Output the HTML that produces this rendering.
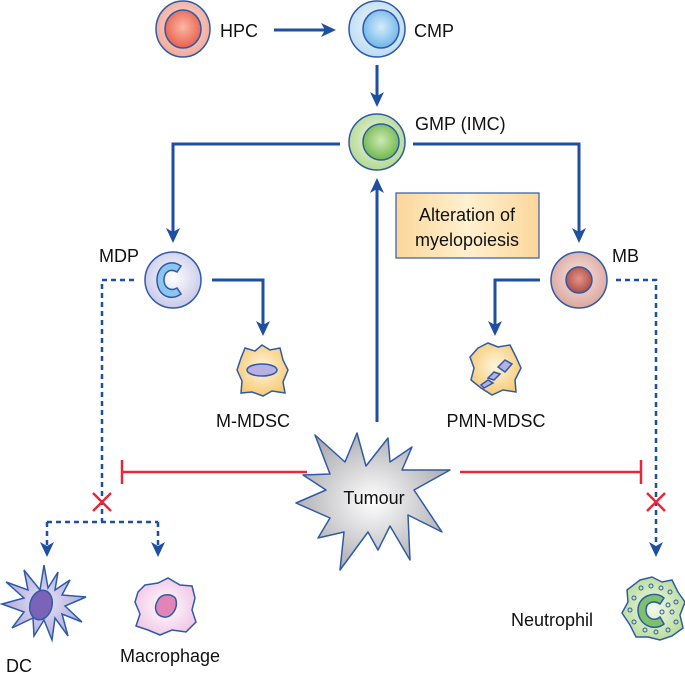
<!DOCTYPE html>
<html><head><style>
html,body{margin:0;padding:0;background:#fff;}
svg{display:block;}
text{font-family:"Liberation Sans",Arial,sans-serif;font-size:18px;fill:#111;}
</style></head><body>
<svg width="685" height="674" viewBox="0 0 685 674" xmlns="http://www.w3.org/2000/svg">
<defs>
<radialGradient id="gr" cx="50%" cy="45%" r="55%"><stop offset="0" stop-color="#fde3da"/><stop offset="1" stop-color="#f2a99a"/></radialGradient>
<radialGradient id="grn" cx="50%" cy="45%" r="55%"><stop offset="0" stop-color="#fbb7a6"/><stop offset="1" stop-color="#e9604c"/></radialGradient>
<radialGradient id="gb" cx="50%" cy="45%" r="55%"><stop offset="0" stop-color="#f2f8fd"/><stop offset="1" stop-color="#bcdcf3"/></radialGradient>
<radialGradient id="gbn" cx="50%" cy="45%" r="55%"><stop offset="0" stop-color="#d5ecfb"/><stop offset="1" stop-color="#6fb6ea"/></radialGradient>
<radialGradient id="gg" cx="50%" cy="45%" r="55%"><stop offset="0" stop-color="#eef7e6"/><stop offset="1" stop-color="#b4d992"/></radialGradient>
<radialGradient id="ggn" cx="50%" cy="45%" r="55%"><stop offset="0" stop-color="#cde9b3"/><stop offset="1" stop-color="#6eb84a"/></radialGradient>
<radialGradient id="gp" cx="50%" cy="45%" r="55%"><stop offset="0" stop-color="#ffffff"/><stop offset="1" stop-color="#c9c9ea"/></radialGradient>
<radialGradient id="gm" cx="50%" cy="45%" r="55%"><stop offset="0" stop-color="#f7e6e3"/><stop offset="1" stop-color="#dba79e"/></radialGradient>
<radialGradient id="gmn" cx="50%" cy="45%" r="55%"><stop offset="0" stop-color="#e3958a"/><stop offset="1" stop-color="#b04d45"/></radialGradient>
<radialGradient id="go" cx="50%" cy="45%" r="60%"><stop offset="0" stop-color="#fff5de"/><stop offset="1" stop-color="#f6c86e"/></radialGradient>
<radialGradient id="gt" cx="50%" cy="50%" r="55%"><stop offset="0" stop-color="#ffffff"/><stop offset="1" stop-color="#a9a9ae"/></radialGradient>
<radialGradient id="gpk" cx="50%" cy="50%" r="55%"><stop offset="0" stop-color="#ffffff"/><stop offset="1" stop-color="#f1c6e6"/></radialGradient>
<radialGradient id="gdc" cx="50%" cy="50%" r="55%"><stop offset="0" stop-color="#e6e3f5"/><stop offset="1" stop-color="#aaa3d8"/></radialGradient>
<radialGradient id="gnu" cx="50%" cy="50%" r="55%"><stop offset="0" stop-color="#f2f9ea"/><stop offset="1" stop-color="#b7dc97"/></radialGradient>
<linearGradient id="gbox" x1="0" y1="0" x2="1" y2="0"><stop offset="0" stop-color="#fbd79b"/><stop offset="0.5" stop-color="#fff0cf"/><stop offset="1" stop-color="#fbd79b"/></linearGradient>
<marker id="ah" markerWidth="16" markerHeight="14" refX="12" refY="7" orient="auto" markerUnits="userSpaceOnUse"><path d="M0,0 L15,7 L0,14 L4,7 Z" fill="#1f4fa0"/></marker>
</defs>

<g stroke="#1f4fa0" stroke-width="3" fill="none">
<line x1="274" y1="30" x2="333" y2="30" marker-end="url(#ah)"/>
<line x1="377" y1="65" x2="377" y2="104" marker-end="url(#ah)"/>
<polyline points="340,144 173,144 173,240" marker-end="url(#ah)"/>
<polyline points="413,144 579,144 579,240" marker-end="url(#ah)"/>
<line x1="377" y1="422" x2="377" y2="181" marker-end="url(#ah)"/>
<polyline points="212,280 263,280 263,333" marker-end="url(#ah)"/>
<polyline points="540,280 495,280 495,333" marker-end="url(#ah)"/>
</g>
<g stroke="#1f4fa0" stroke-width="2.5" fill="none" stroke-dasharray="5,4">
<polyline points="134,280 102,280 102,522"/>
<polyline points="47,522 158,522"/>
<line x1="47" y1="522" x2="47" y2="554" marker-end="url(#ah)"/>
<line x1="158" y1="522" x2="158" y2="554" marker-end="url(#ah)"/>
<polyline points="616,280 656,280 656,554" marker-end="url(#ah)"/>
</g>
<g stroke="#e8283a" stroke-width="2.5" fill="none">
<line x1="307" y1="472" x2="122" y2="472"/><line x1="122" y1="460" x2="122" y2="484"/>
<line x1="460" y1="472" x2="641" y2="472"/><line x1="641" y1="460" x2="641" y2="484"/>
<line x1="93" y1="493" x2="111" y2="511"/><line x1="111" y1="493" x2="93" y2="511"/>
<line x1="647" y1="493" x2="665" y2="511"/><line x1="665" y1="493" x2="647" y2="511"/>
</g>

<g stroke="#2e5aa8" stroke-width="1.5">
<ellipse cx="183" cy="29" rx="27" ry="28" fill="url(#gr)"/><ellipse cx="183" cy="29" rx="18" ry="19" fill="url(#grn)"/>
<ellipse cx="377" cy="29" rx="28" ry="28" fill="url(#gb)"/><ellipse cx="381" cy="29" rx="18" ry="19" fill="url(#gbn)"/>
<ellipse cx="377" cy="142" rx="28" ry="28" fill="url(#gg)"/><ellipse cx="381" cy="142" rx="18" ry="18" fill="url(#ggn)"/>
<ellipse cx="173" cy="280" rx="28" ry="28" fill="url(#gp)"/>
<path d="M181,266 C170,258 157,266 157,280 C157,295 170,302 181,294 L177,288 C170,292 164,287 164,280 C164,272 170,268 177,272 Z" fill="#8cc6ee"/>
<ellipse cx="579" cy="280" rx="28" ry="28" fill="url(#gm)"/><ellipse cx="579" cy="280" rx="13" ry="13" fill="url(#gmn)"/>
<path d="M245,348 L255,351 L262,345 L270,350 L280,348 L283,360 L288,370 L283,382 L285,393 L272,391 L263,396 L252,392 L241,393 L242,381 L237,370 L241,358 Z" fill="url(#go)"/>
<ellipse cx="262" cy="370" rx="15" ry="6" fill="#b7b0e0"/>
<path d="M478,348 L488,343 L498,347 L510,345 L516,357 L521,368 L515,380 L516,392 L503,390 L492,395 L481,388 L471,380 L474,368 L470,357 Z" fill="url(#go)"/>
<path d="M505,360 L512,364 L505,372 L498,367 Z M500,374 L494,380 L488,378 L494,372 Z M493,383 L484,388 L481,385 L488,380 Z" fill="#b7b0e0"/>
<path d="M315,435 L345,462 L357,433 L366,466 L388,438 L390,462 L412,447 L402,470 L450,470 L414,490 L442,532 L408,515 L410,560 L390,526 L378,550 L368,532 L340,570 L344,532 L318,538 L330,518 L296,503 L326,490 L303,475 L330,474 Z" fill="url(#gt)" stroke-linejoin="round"/>
<path d="M40,590 L44,565 L48,588 L58,572 L55,590 L70,580 L62,595 L86,597 L65,606 L82,622 L62,614 L68,636 L55,618 L52,640 L44,620 L34,636 L33,618 L12,628 L24,612 L2,604 L24,598 L6,582 L28,590 L24,570 Z" fill="url(#gdc)"/>
<ellipse cx="41" cy="605" rx="11" ry="15" transform="rotate(15 41 605)" fill="#7b64b8"/>
<path d="M145,585 L158,583 L168,578 L180,585 L192,586 L195,598 L192,610 L196,622 L186,632 L172,630 L160,635 L148,630 L136,626 L140,614 L135,602 L138,592 Z" fill="url(#gpk)"/>
<path d="M158,600 C162,592 175,594 176,600 C178,608 172,618 164,617 C156,616 153,608 158,600 Z" fill="#e384b9"/>
<path d="M640,580 L652,577 L662,582 L672,580 L678,592 L685,602 L680,615 L683,628 L672,636 L660,640 L648,637 L636,637 L630,625 L622,613 L628,602 L627,590 Z" fill="url(#gnu)"/>
<path d="M664,598 C655,590 638,596 638,610 C638,625 654,632 664,624 L660,617 C654,622 646,618 646,610 C646,602 654,600 660,604 Z" fill="#7fc06a"/>
</g>
<g fill="none" stroke="#2e5aa8" stroke-width="1">
<circle cx="641" cy="588" r="2"/><circle cx="651" cy="586" r="2"/><circle cx="661" cy="588" r="2"/><circle cx="670" cy="592" r="2"/><circle cx="676" cy="602" r="2"/><circle cx="672" cy="612" r="2"/><circle cx="676" cy="622" r="2"/><circle cx="668" cy="630" r="2"/><circle cx="656" cy="632" r="2"/><circle cx="645" cy="630" r="2"/><circle cx="634" cy="622" r="2"/><circle cx="630" cy="610" r="2"/><circle cx="634" cy="598" r="2"/><circle cx="662" cy="612" r="2"/><circle cx="668" cy="605" r="2"/>
</g>

<rect x="396" y="193" width="143" height="65" fill="url(#gbox)" stroke="#2e5aa8" stroke-width="1.2"/>
<text x="467" y="221" text-anchor="middle">Alteration of</text>
<text x="467" y="246" text-anchor="middle">myelopoiesis</text>

<text x="220" y="37">HPC</text>
<text x="414" y="37">CMP</text>
<text x="415" y="130">GMP (IMC)</text>
<text x="99" y="262">MDP</text>
<text x="612" y="262">MB</text>
<text x="253" y="427" text-anchor="middle">M-MDSC</text>
<text x="496" y="427" text-anchor="middle">PMN-MDSC</text>
<text x="374" y="504" text-anchor="middle">Tumour</text>
<text x="6" y="672">DC</text>
<text x="120" y="662">Macrophage</text>
<text x="511" y="626">Neutrophil</text>
</svg>
</body></html>
